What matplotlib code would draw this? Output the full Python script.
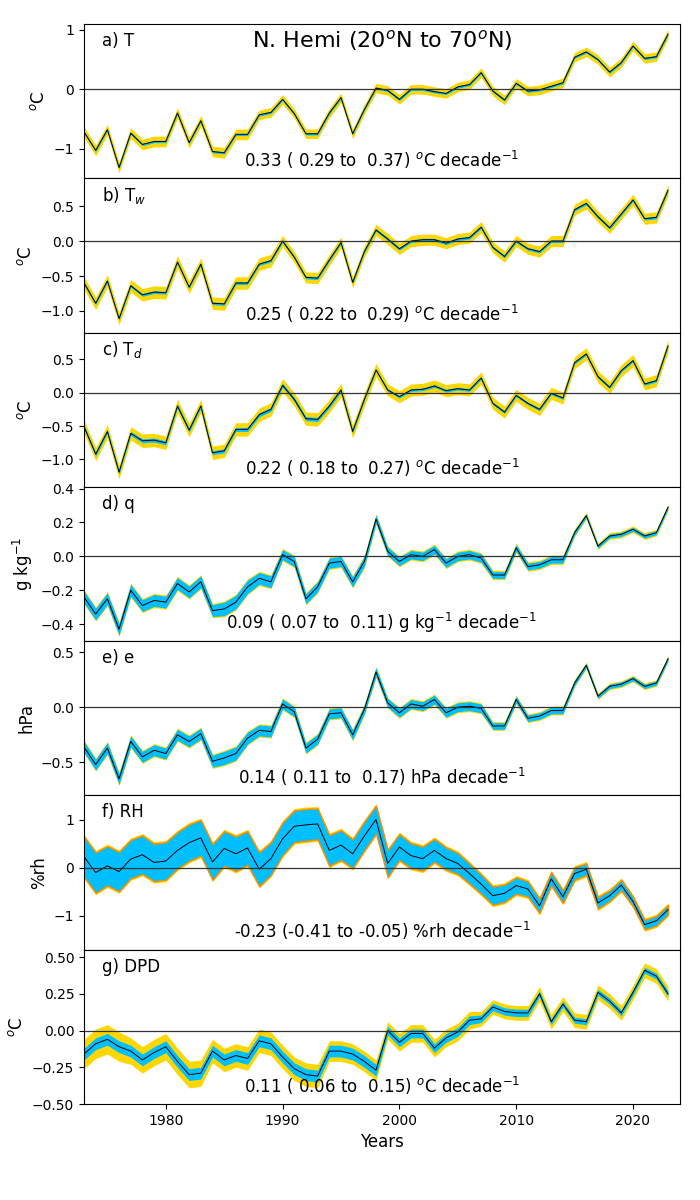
import matplotlib.pyplot as plt

years = list(range(1973, 2024))

# a) T
t_mid = [-0.72, -1.03, -0.68, -1.32, -0.74, -0.93, -0.88, -0.88, -0.40, -0.90,
         -0.53, -1.05, -1.07, -0.76, -0.76, -0.43, -0.39, -0.17, -0.41, -0.75,
         -0.75, -0.40, -0.14, -0.75, -0.34, 0.02, -0.02, -0.17, 0.00, 0.00,
         -0.04, -0.07, 0.04, 0.08, 0.28, -0.03, -0.18, 0.10, -0.03, -0.01,
         0.05, 0.11, 0.54, 0.63, 0.50, 0.29, 0.45, 0.73, 0.52, 0.55, 0.93]
t_in = [0.02] * 51
t_out = [0.09, 0.09, 0.09, 0.09, 0.09, 0.09, 0.09, 0.09, 0.09, 0.09,
         0.09, 0.09, 0.09, 0.09, 0.09, 0.08, 0.08, 0.08, 0.08, 0.08,
         0.08, 0.08, 0.08, 0.08, 0.08, 0.08, 0.08, 0.08, 0.08, 0.08,
         0.08, 0.08, 0.08, 0.08, 0.08, 0.08, 0.08, 0.08, 0.08, 0.08,
         0.08, 0.08, 0.08, 0.08, 0.08, 0.08, 0.08, 0.08, 0.08, 0.08, 0.08]

# b) Tw
tw_mid = [-0.60, -0.89, -0.57, -1.11, -0.64, -0.77, -0.73, -0.74, -0.30, -0.66,
          -0.33, -0.89, -0.90, -0.60, -0.60, -0.33, -0.28, 0.00, -0.23, -0.52,
          -0.53, -0.27, -0.02, -0.59, -0.15, 0.16, 0.03, -0.11, 0.00, 0.02,
          0.02, -0.03, 0.03, 0.05, 0.20, -0.09, -0.22, 0.00, -0.11, -0.15,
          0.00, 0.00, 0.45, 0.54, 0.35, 0.19, 0.39, 0.59, 0.32, 0.34, 0.73]
tw_in = [0.02] * 51
tw_out = [0.09, 0.09, 0.09, 0.09, 0.09, 0.09, 0.09, 0.09, 0.09, 0.09,
          0.09, 0.09, 0.09, 0.09, 0.09, 0.09, 0.09, 0.08, 0.08, 0.08,
          0.08, 0.08, 0.08, 0.08, 0.08, 0.08, 0.08, 0.08, 0.08, 0.08,
          0.08, 0.08, 0.08, 0.08, 0.08, 0.08, 0.08, 0.08, 0.08, 0.08,
          0.08, 0.08, 0.08, 0.08, 0.08, 0.08, 0.08, 0.08, 0.08, 0.08, 0.08]

# c) Td
td_mid = [-0.51, -0.92, -0.58, -1.19, -0.61, -0.72, -0.71, -0.75, -0.20, -0.56,
          -0.20, -0.90, -0.87, -0.55, -0.55, -0.33, -0.25, 0.11, -0.10, -0.39,
          -0.40, -0.20, 0.04, -0.58, -0.10, 0.34, 0.04, -0.06, 0.04, 0.05,
          0.10, 0.03, 0.06, 0.04, 0.22, -0.16, -0.29, -0.04, -0.16, -0.25,
          -0.01, -0.08, 0.45, 0.58, 0.24, 0.08, 0.33, 0.48, 0.13, 0.18, 0.70]
td_in = [0.03, 0.03, 0.03, 0.03, 0.03, 0.03, 0.03, 0.03, 0.03, 0.03,
         0.03, 0.03, 0.03, 0.03, 0.03, 0.03, 0.03, 0.03, 0.03, 0.03,
         0.03, 0.03, 0.03, 0.03, 0.02, 0.02, 0.02, 0.02, 0.02, 0.02,
         0.02, 0.02, 0.02, 0.02, 0.02, 0.02, 0.02, 0.02, 0.02, 0.02,
         0.02, 0.02, 0.02, 0.02, 0.02, 0.02, 0.02, 0.02, 0.02, 0.02, 0.02]
td_out = [0.10, 0.10, 0.10, 0.10, 0.10, 0.10, 0.10, 0.10, 0.10, 0.10,
          0.10, 0.10, 0.10, 0.10, 0.10, 0.10, 0.10, 0.10, 0.10, 0.10,
          0.10, 0.10, 0.10, 0.10, 0.10, 0.10, 0.09, 0.09, 0.09, 0.09,
          0.09, 0.09, 0.09, 0.09, 0.09, 0.09, 0.09, 0.09, 0.09, 0.09,
          0.09, 0.09, 0.09, 0.09, 0.09, 0.09, 0.09, 0.09, 0.09, 0.09, 0.09]

# d) q
q_mid = [-0.24, -0.34, -0.25, -0.43, -0.20, -0.29, -0.26, -0.27, -0.16, -0.21,
         -0.15, -0.32, -0.31, -0.27, -0.18, -0.13, -0.15, 0.01, -0.03, -0.25,
         -0.18, -0.04, -0.03, -0.15, -0.03, 0.22, 0.03, -0.03, 0.01, 0.00,
         0.04, -0.04, 0.00, 0.01, -0.01, -0.11, -0.11, 0.05, -0.06, -0.05,
         -0.02, -0.02, 0.14, 0.24, 0.06, 0.12, 0.13, 0.16, 0.12, 0.14, 0.29]
q_in = [0.035, 0.035, 0.035, 0.035, 0.035, 0.035, 0.035, 0.035, 0.035, 0.035,
        0.035, 0.035, 0.04, 0.04, 0.04, 0.035, 0.035, 0.03, 0.03, 0.03,
        0.03, 0.03, 0.03, 0.03, 0.03, 0.025, 0.025, 0.025, 0.025, 0.025,
        0.025, 0.025, 0.025, 0.025, 0.025, 0.02, 0.02, 0.02, 0.02, 0.02,
        0.02, 0.02, 0.015, 0.012, 0.012, 0.012, 0.012, 0.012, 0.012, 0.012, 0.012]
q_out = [0.042, 0.042, 0.042, 0.042, 0.042, 0.042, 0.042, 0.042, 0.042, 0.042,
         0.042, 0.042, 0.047, 0.047, 0.047, 0.042, 0.042, 0.037, 0.037, 0.037,
         0.037, 0.037, 0.037, 0.037, 0.037, 0.032, 0.032, 0.032, 0.032, 0.032,
         0.032, 0.032, 0.032, 0.032, 0.032, 0.028, 0.028, 0.028, 0.028, 0.028,
         0.028, 0.028, 0.023, 0.02, 0.02, 0.02, 0.02, 0.02, 0.02, 0.02, 0.02]

# e) e
e_mid = [-0.36, -0.52, -0.37, -0.65, -0.31, -0.45, -0.39, -0.42, -0.25, -0.31,
         -0.24, -0.49, -0.46, -0.42, -0.28, -0.21, -0.22, 0.03, -0.04, -0.37,
         -0.29, -0.06, -0.05, -0.25, -0.02, 0.32, 0.04, -0.05, 0.03, 0.01,
         0.07, -0.05, 0.00, 0.01, -0.01, -0.17, -0.17, 0.07, -0.10, -0.08,
         -0.03, -0.03, 0.22, 0.38, 0.10, 0.19, 0.21, 0.26, 0.19, 0.22, 0.44]
e_in = [0.05, 0.05, 0.05, 0.05, 0.05, 0.05, 0.05, 0.05, 0.05, 0.05,
        0.05, 0.055, 0.06, 0.06, 0.055, 0.05, 0.05, 0.045, 0.045, 0.045,
        0.045, 0.045, 0.045, 0.045, 0.04, 0.04, 0.04, 0.04, 0.04, 0.04,
        0.04, 0.04, 0.04, 0.04, 0.04, 0.03, 0.03, 0.03, 0.03, 0.03,
        0.03, 0.03, 0.025, 0.02, 0.02, 0.02, 0.02, 0.02, 0.02, 0.02, 0.02]
e_out = [0.06, 0.06, 0.06, 0.06, 0.06, 0.06, 0.06, 0.06, 0.06, 0.06,
         0.06, 0.065, 0.07, 0.07, 0.065, 0.06, 0.06, 0.055, 0.055, 0.055,
         0.055, 0.055, 0.055, 0.055, 0.05, 0.05, 0.05, 0.05, 0.05, 0.05,
         0.05, 0.05, 0.05, 0.05, 0.05, 0.04, 0.04, 0.04, 0.04, 0.04,
         0.04, 0.04, 0.035, 0.03, 0.03, 0.03, 0.03, 0.03, 0.03, 0.03, 0.03]

# f) RH
rh_mid = [0.23, -0.10, 0.04, -0.08, 0.18, 0.27, 0.11, 0.14, 0.36, 0.52,
          0.62, 0.12, 0.40, 0.29, 0.41, -0.03, 0.19, 0.60, 0.86, 0.89,
          0.91, 0.36, 0.47, 0.29, 0.66, 1.00, 0.09, 0.43, 0.25, 0.19,
          0.36, 0.19, 0.09, -0.12, -0.34, -0.58, -0.53, -0.37, -0.44, -0.79,
          -0.23, -0.60, -0.12, -0.03, -0.73, -0.58, -0.36, -0.70, -1.18, -1.10, -0.87]
rh_in = [0.42, 0.42, 0.41, 0.41, 0.40, 0.40, 0.39, 0.39, 0.38, 0.38,
         0.37, 0.37, 0.36, 0.36, 0.35, 0.35, 0.34, 0.34, 0.33, 0.33,
         0.32, 0.32, 0.31, 0.30, 0.30, 0.29, 0.28, 0.27, 0.26, 0.25,
         0.24, 0.23, 0.22, 0.21, 0.20, 0.19, 0.18, 0.17, 0.16, 0.15,
         0.14, 0.13, 0.13, 0.12, 0.12, 0.11, 0.11, 0.10, 0.10, 0.10, 0.10]
rh_out = [0.46, 0.46, 0.45, 0.45, 0.44, 0.44, 0.43, 0.43, 0.42, 0.42,
          0.41, 0.41, 0.40, 0.40, 0.39, 0.39, 0.38, 0.38, 0.37, 0.37,
          0.36, 0.36, 0.35, 0.34, 0.34, 0.33, 0.32, 0.31, 0.30, 0.29,
          0.28, 0.27, 0.26, 0.25, 0.24, 0.23, 0.22, 0.21, 0.20, 0.19,
          0.18, 0.17, 0.17, 0.16, 0.16, 0.15, 0.15, 0.14, 0.14, 0.14, 0.14]

# g) DPD
dpd_mid = [-0.16, -0.09, -0.06, -0.11, -0.14, -0.20, -0.15, -0.11, -0.21, -0.30,
           -0.29, -0.14, -0.20, -0.17, -0.19, -0.07, -0.09, -0.18, -0.26, -0.30,
           -0.31, -0.14, -0.14, -0.16, -0.21, -0.27, 0.00, -0.08, -0.02, -0.02,
           -0.12, -0.05, -0.01, 0.07, 0.08, 0.16, 0.13, 0.12, 0.12, 0.25,
           0.06, 0.18, 0.07, 0.06, 0.26, 0.20, 0.12, 0.26, 0.41, 0.37, 0.25]
dpd_in = [0.04, 0.04, 0.04, 0.04, 0.04, 0.04, 0.04, 0.04, 0.04, 0.04,
          0.04, 0.04, 0.04, 0.04, 0.04, 0.04, 0.04, 0.04, 0.04, 0.04,
          0.04, 0.04, 0.04, 0.04, 0.04, 0.04, 0.03, 0.03, 0.03, 0.03,
          0.03, 0.03, 0.03, 0.03, 0.025, 0.025, 0.025, 0.025, 0.025, 0.02,
          0.02, 0.02, 0.02, 0.02, 0.02, 0.02, 0.02, 0.02, 0.02, 0.02, 0.02]
dpd_out = [0.10, 0.10, 0.10, 0.10, 0.09, 0.09, 0.09, 0.09, 0.09, 0.09,
           0.09, 0.08, 0.08, 0.08, 0.08, 0.08, 0.08, 0.08, 0.08, 0.08,
           0.08, 0.07, 0.07, 0.07, 0.07, 0.07, 0.06, 0.06, 0.06, 0.06,
           0.06, 0.06, 0.06, 0.06, 0.05, 0.05, 0.05, 0.05, 0.05, 0.05,
           0.05, 0.05, 0.05, 0.05, 0.05, 0.05, 0.05, 0.05, 0.05, 0.05, 0.05]

labels = ['a) T', 'b) T$_w$', 'c) T$_d$', 'd) q', 'e) e', 'f) RH', 'g) DPD']
units = ['$^o$C', '$^o$C', '$^o$C', 'g kg$^{-1}$', 'hPa', '%rh', '$^o$C']
trends = ['0.33 ( 0.29 to  0.37) $^o$C decade$^{-1}$',
          '0.25 ( 0.22 to  0.29) $^o$C decade$^{-1}$',
          '0.22 ( 0.18 to  0.27) $^o$C decade$^{-1}$',
          '0.09 ( 0.07 to  0.11) g kg$^{-1}$ decade$^{-1}$',
          '0.14 ( 0.11 to  0.17) hPa decade$^{-1}$',
          '-0.23 (-0.41 to -0.05) %rh decade$^{-1}$',
          '0.11 ( 0.06 to  0.15) $^o$C decade$^{-1}$']
ylims = [(-1.5, 1.1), (-1.31, 0.9), (-1.41, 0.9), (-0.5, 0.41), (-0.8, 0.6), (-1.7, 1.5), (-0.5, 0.55)]
yticks = [[-1, 0, 1], [-1.0, -0.5, 0.0, 0.5], [-1.0, -0.5, 0.0, 0.5], [-0.4, -0.2, 0.0, 0.2, 0.4],
          [-0.5, 0.0, 0.5], [-1, 0, 1], [-0.5, -0.25, 0.0, 0.25, 0.5]]

series = [(t_mid, t_in, t_out), (tw_mid, tw_in, tw_out), (td_mid, td_in, td_out),
          (q_mid, q_in, q_out), (e_mid, e_in, e_out), (rh_mid, rh_in, rh_out),
          (dpd_mid, dpd_in, dpd_out)]

fig, axes = plt.subplots(7, 1, figsize=(7, 12), sharex=True)
fig.subplots_adjust(left=0.12, right=0.971, top=0.98, bottom=0.08, hspace=0)

for i, ax in enumerate(axes):
    mid, inner, outer = series[i]
    lo_out = [m - w for m, w in zip(mid, outer)]
    hi_out = [m + w for m, w in zip(mid, outer)]
    lo_in = [m - w for m, w in zip(mid, inner)]
    hi_in = [m + w for m, w in zip(mid, inner)]
    ax.fill_between(years, lo_out, hi_out, color='gold', lw=0)
    if i == 5:
        # thin orange rim just outside the blue band
        ax.fill_between(years, lo_in, hi_in, facecolor='deepskyblue', edgecolor='darkorange', lw=1.0)
    else:
        ax.fill_between(years, lo_in, hi_in, color='deepskyblue', lw=0)
    ax.plot(years, mid, color='black', lw=0.7)
    ax.axhline(0, color='#333333', lw=0.9)
    ax.set_xlim(1973, 2024)
    ax.set_ylim(ylims[i])
    ax.set_yticks(yticks[i])
    ax.set_ylabel(units[i], fontsize=12)
    ax.text(0.03, 0.89, labels[i], transform=ax.transAxes, fontsize=12, va='center')
    ax.text(0.5, 0.12, trends[i], transform=ax.transAxes, fontsize=12, ha='center', va='center')

axes[0].text(0.5, 0.89, 'N. Hemi (20$^o$N to 70$^o$N)', transform=axes[0].transAxes,
             fontsize=16, ha='center', va='center')
axes[-1].set_xlabel('Years', fontsize=12)

fig.savefig('out.png', dpi=100)
